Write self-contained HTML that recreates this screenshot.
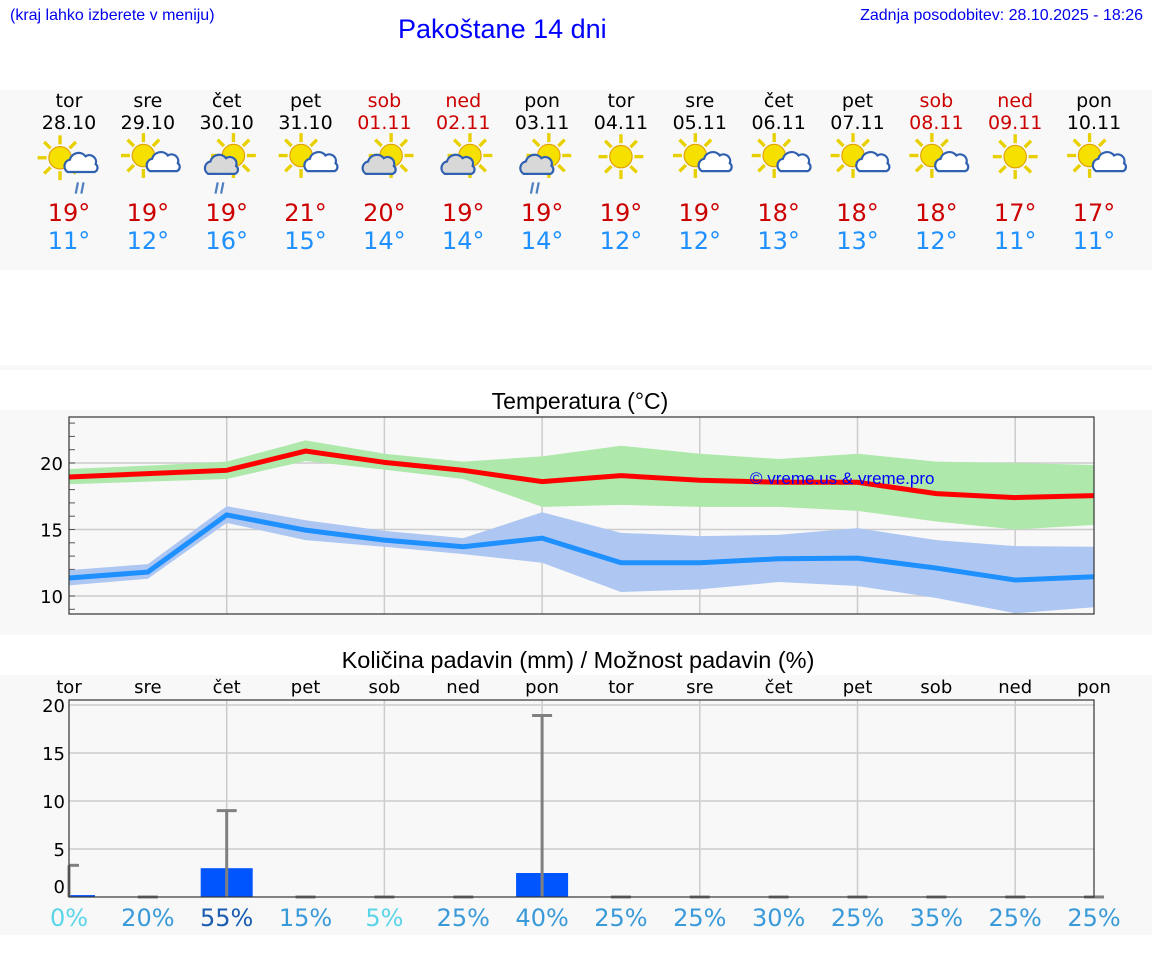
<!DOCTYPE html>
<html><head><meta charset="utf-8">
<style>
body{margin:0;width:1152px;height:975px;background:#fff;position:relative;overflow:hidden;font-family:"DejaVu Sans","Liberation Sans",sans-serif;}
.abs{position:absolute}
.band{position:absolute;left:0;width:1152px;background:#f8f8f8}
</style></head>
<body>
<div class="abs" style="left:10px;top:7px;font:16px 'Liberation Sans',sans-serif;color:#0000ee">(kraj lahko izberete v meniju)</div>
<div class="abs" style="left:398px;top:14px;font:27px 'Liberation Sans',sans-serif;color:#0000ff">Pakoštane 14 dni</div>
<div class="abs" style="right:9px;top:7px;font:16px 'Liberation Sans',sans-serif;color:#0000ee">Zadnja posodobitev: 28.10.2025 - 18:26</div>
<div class="band" style="top:90px;height:180px"></div>
<div class="band" style="top:365px;height:5px"></div>
<div class="band" style="top:410px;height:225px"></div>
<div class="band" style="top:675px;height:260px"></div>
<svg class="abs" style="left:0;top:0" width="1152" height="975" id="svg"></svg>
<script>
const days=["tor","sre","čet","pet","sob","ned","pon","tor","sre","čet","pet","sob","ned","pon"];
const dates=["28.10","29.10","30.10","31.10","01.11","02.11","03.11","04.11","05.11","06.11","07.11","08.11","09.11","10.11"];
const weekend=[0,0,0,0,1,1,0,0,0,0,0,1,1,0];
const icons=[0,1,2,1,3,3,2,4,1,1,1,1,4,1];
const hiT=[19,19,19,21,20,19,19,19,19,18,18,18,17,17];
const loT=[11,12,16,15,14,14,14,12,12,13,13,12,11,11];
const maxLine=[18.95,19.2,19.45,20.9,20.05,19.45,18.6,19.05,18.7,18.55,18.55,17.7,17.4,17.55];
const maxUp=[19.55,19.8,20.1,21.7,20.7,20.1,20.5,21.3,20.7,20.3,20.7,20.1,20,19.85];
const maxLo=[18.4,18.6,18.8,20.15,19.5,18.8,16.7,16.85,16.7,16.7,16.4,15.6,15,15.35];
const minLine=[11.35,11.8,16.1,14.95,14.2,13.7,14.35,12.5,12.5,12.8,12.85,12.1,11.2,11.45];
const minUp=[11.95,12.4,16.75,15.7,14.9,14.35,16.3,14.75,14.5,14.6,15.1,14.2,13.75,13.7];
const minLo=[10.8,11.3,15.5,14.2,13.7,13.15,12.5,10.3,10.5,11.05,10.75,9.85,8.7,9.15];
const rain=[0.2,0,3.0,0,0,0,2.5,0,0,0,0,0,0,0];
const rainMax=[3.3,0,9.0,0,0,0,18.9,0,0,0,0,0,0,0];
const prob=[0,20,55,15,5,25,40,25,25,30,25,35,25,25];
const tTicks=[10,15,20];
const pTicks=[0,5,10,15,20];

const NS="http://www.w3.org/2000/svg";
const svg=document.getElementById('svg');
function mk(tag,attrs,parent){const e=document.createElementNS(NS,tag);for(const k in attrs)e.setAttribute(k,attrs[k]);(parent||svg).appendChild(e);return e;}
const X=i=>69+i*78.85;
const Ty=v=>463+(20-v)*13.3;
const Py=v=>897-v*9.6;

days.forEach((d,i)=>{
  const c=weekend[i]?"#cc0000":"#000";
  let t=mk('text',{x:X(i),y:107,'text-anchor':'middle','font-size':19,fill:c});t.textContent=d;
  
  t=mk('text',{x:X(i),y:129,'text-anchor':'middle','font-size':19,fill:c});t.textContent=dates[i];
  
  t=mk('text',{x:X(i),y:221,'text-anchor':'middle','font-size':24,fill:"#cc0000"});t.textContent=hiT[i]+"°";
  
  t=mk('text',{x:X(i),y:249,'text-anchor':'middle','font-size':24,fill:"#1e90ff"});t.textContent=loT[i]+"°";
  
  const g=mk('g',{transform:`translate(${X(i)},160) scale(1.12)`});
  
  const ty=icons[i];
  function sun(cx,cy){for(let a=0;a<8;a++){const r=a*Math.PI/4;mk('line',{x1:cx+Math.cos(r)*12,y1:cy+Math.sin(r)*12,x2:cx+Math.cos(r)*20,y2:cy+Math.sin(r)*20,stroke:'#e8d000','stroke-width':3},g);}mk('circle',{cx,cy,r:10,fill:'#f5e000',stroke:'#e0a000','stroke-width':1},g);}
  function cloud(cx,cy,s,fill){mk('path',{d:`M${cx-12*s},${cy+7*s} a6 6 0 0 1 2 -11 a8 8 0 0 1 14 -3 a6 6 0 0 1 9 7 a4 4 0 0 1 -1 7 z`,fill:fill,stroke:'#3060b0','stroke-width':2},g);}
  function drops(cx){mk('line',{x1:cx,y1:20,x2:cx-2,y2:30,stroke:'#5080c0','stroke-width':2},g);mk('line',{x1:cx+5,y1:20,x2:cx+3,y2:30,stroke:'#5080c0','stroke-width':2},g);}
  if(ty==0){sun(-8,-2);cloud(12,3,1.1,'#fff');drops(8);}
  else if(ty==1){sun(-4,-4);cloud(12,4,0.85,'#fff');}
  else if(ty==2){sun(6,-4);cloud(-4,5,1.05,'#d8d8d8');drops(-8);}
  else if(ty==3){sun(6,-4);cloud(-4,5,1.05,'#d8d8d8');}
  else{sun(0,-3);}
});

let t=mk('text',{x:580,y:409,'text-anchor':'middle','font-size':23,'font-family':'Liberation Sans,sans-serif'});t.textContent="Temperatura (°C)";

mk('rect',{x:69,y:417,width:1025,height:197,fill:'#f8f8f8'});
for(let i=2;i<14;i+=2)mk('line',{x1:X(i),y1:417,x2:X(i),y2:614,stroke:'#ccc','stroke-width':1.5});
tTicks.forEach(v=>{mk('line',{x1:69,y1:Ty(v),x2:1094,y2:Ty(v),stroke:'#ccc','stroke-width':1.5});
 const l=mk('text',{x:63,y:Ty(v)+7,'text-anchor':'end','font-size':18});l.textContent=v;
 });
for(let v=9;v<=23;v++)mk('line',{x1:69,y1:Ty(v),x2:75,y2:Ty(v),stroke:'#555'});
function band(up,lo,fill,name){let d='M'+up.map((v,i)=>X(i)+','+Ty(v)).join(' L')+' L'+lo.map((v,i)=>X(i)+','+Ty(v)).reverse().join(' L')+'Z';const p=mk('path',{d,fill});}
function line(arr,c,name){const p=mk('polyline',{points:arr.map((v,i)=>X(i)+','+Ty(v)).join(' '),fill:'none',stroke:c,'stroke-width':5});}
band(maxUp,maxLo,'#aee8aa','max-temp-range');
band(minUp,minLo,'#adc6f2','min-temp-range');
line(maxLine,'#ff0000','max-temp-line');
line(minLine,'#1e90ff','min-temp-line');
t=mk('text',{x:750,y:484,'font-size':17,fill:'#0000ff','font-family':'Liberation Sans,sans-serif'});t.textContent="© vreme.us & vreme.pro";

mk('rect',{x:69,y:417,width:1025,height:197,fill:'none',stroke:'#333','stroke-width':1.2});

t=mk('text',{x:578,y:668,'text-anchor':'middle','font-size':23.5,'font-family':'Liberation Sans,sans-serif'});t.textContent="Količina padavin (mm) / Možnost padavin (%)";

mk('rect',{x:69,y:700,width:1025,height:197,fill:'#f8f8f8'});
for(let i=2;i<14;i+=2)mk('line',{x1:X(i),y1:700,x2:X(i),y2:897,stroke:'#ccc','stroke-width':1.5});
pTicks.forEach(v=>{if(v>0)mk('line',{x1:69,y1:Py(v),x2:1094,y2:Py(v),stroke:'#ccc','stroke-width':1.5});
 const l=mk('text',{x:65,y:(v==0?Py(v)-4:Py(v)+7),'text-anchor':'end','font-size':18});l.textContent=v;
 });
days.forEach((d,i)=>{
 let l=mk('text',{x:X(i),y:693,'text-anchor':'middle','font-size':18});l.textContent=d;
 
 const x0=Math.max(69,X(i)-26),x1=X(i)+26;
 const b=mk('rect',{x:x0,y:Py(rain[i]),width:x1-x0,height:Py(0)-Py(rain[i]),fill:'#0055ff'});
 
 const e=mk('g',{});
 mk('line',{x1:X(i),y1:Py(0),x2:X(i),y2:Py(rainMax[i]),stroke:'#808080','stroke-width':3},e);
 mk('line',{x1:Math.max(69,X(i)-10),y1:Py(rainMax[i]),x2:X(i)+10,y2:Py(rainMax[i]),stroke:'#808080','stroke-width':3},e);
 const p=prob[i];const c=p<=5?'#5bd5e8':(p>=50?'#1a5cb0':'#3a9ad9');
 l=mk('text',{x:X(i),y:926,'text-anchor':'middle','font-size':24,fill:c});l.textContent=p+"%";
 
});
mk('rect',{x:69,y:700,width:1025,height:197,fill:'none',stroke:'#333','stroke-width':1.2});
</script>
</body></html>
